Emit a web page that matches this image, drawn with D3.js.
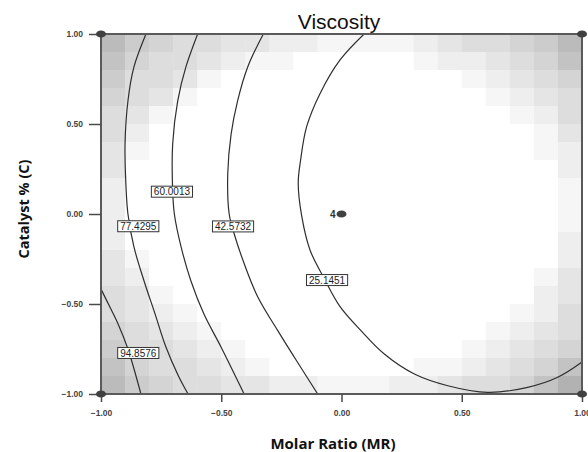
<!DOCTYPE html>
<html>
<head>
<meta charset="utf-8">
<script src="https://cdn.jsdelivr.net/npm/d3@7"></script>
<style>
  body { margin: 0; background: #fff; }
  text { font-family: "Liberation Sans", Arial, sans-serif; }
</style>
</head>
<body>
<div id="chart"></div>
<script>
// axis ticks (coded factors)
const xTicks = [-1, -0.5, 0, 0.5, 1]
const yTicks = [-1, -0.5, 0, 0.5, 1]

// grey shading cells, 20 x 20, top row first, 0 = white .. 9 = darkest
const shadeRows = [
  "86544332211112344568",
  "75443211000001223457",
  "64431000000000012345",
  "54310000000000001234",
  "43100000000000000124",
  "42000000000000000013",
  "31000000000000000012",
  "30000000000000000002",
  "20000000000000000001",
  "20000000000000000001",
  "20000000000000000001",
  "20000000000000000002",
  "31000000000000000002",
  "32000000000000000013",
  "43100000000000000023",
  "43210000000000000124",
  "54321000000000001234",
  "64432100000000012345",
  "75443210000001123457",
  "86544332211122344579"
]

// contour lines, [MR, C] pairs
const contour94 = [[-1.0, -0.417], [-0.962, -0.52], [-0.929, -0.611], [-0.888, -0.75], [-0.834, -1.0]]
const contour77 = [[-0.813, 1.0], [-0.863, 0.817], [-0.888, 0.628], [-0.9, 0.389], [-0.896, 0.15],
  [-0.888, 0.0], [-0.863, -0.183], [-0.821, -0.372], [-0.775, -0.556], [-0.73, -0.739],
  [-0.68, -0.894], [-0.638, -1.0]]
const contour60 = [[-0.598, 1.0], [-0.647, 0.817], [-0.681, 0.629], [-0.702, 0.389], [-0.702, 0.129],
  [-0.695, 0.0], [-0.667, -0.183], [-0.626, -0.372], [-0.572, -0.556], [-0.501, -0.739], [-0.405, -1.0]]
const contour42 = [[-0.325, 1.0], [-0.39, 0.817], [-0.432, 0.629], [-0.459, 0.444], [-0.473, 0.222],
  [-0.467, 0.0], [-0.446, -0.111], [-0.404, -0.278], [-0.348, -0.461], [-0.265, -0.648],
  [-0.196, -0.796], [-0.099, -1.0]]
const contour25 = [[0.094, 1.0], [-0.006, 0.856], [-0.089, 0.67], [-0.145, 0.485], [-0.17, 0.3],
  [-0.18, 0.171], [-0.165, -0.015], [-0.131, -0.2], [-0.076, -0.348], [-0.006, -0.515],
  [0.081, -0.648], [0.178, -0.778], [0.303, -0.889], [0.442, -0.954], [0.608, -0.991],
  [0.774, -0.963], [0.899, -0.907], [1.0, -0.822]]

const contourLines = [contour94, contour77, contour60, contour42, contour25]
const contourLevels = ["94.8576", "77.4295", "60.0013", "42.5732", "25.1451"]
const labelX = [-0.845, -0.845, -0.705, -0.451, -0.06]
const labelY = [-0.772, -0.068, 0.124, -0.069, -0.367]

// design points and replicate counts
const designX = [-1, 1, -1, 1, 0]
const designY = [1, 1, -1, -1, 0]
const designN = [1, 1, 1, 1, 4]

const width = 588, height = 452
const margin = {top: 34, right: 6, bottom: 58, left: 101}

const svg = d3.select("#chart").append("svg")
  .attr("width", width)
  .attr("height", height)

const x = d3.scaleLinear().domain([-1, 1]).range([margin.left, width - margin.right])
const y = d3.scaleLinear().domain([-1, 1]).range([height - margin.bottom, margin.top])

const col = d3.scaleBand().domain(d3.range(20)).range(x.range())
const row = d3.scaleBand().domain(d3.range(20)).range([margin.top, height - margin.bottom])
const grey = d3.scaleLinear().domain([0, 9]).range(["#ffffff", "#b2b2b2"])

const cells = shadeRows.flatMap((r, i) => r.split("").map((v, j) => ({i, j, v: +v})))

svg.append("g").selectAll("rect")
  .data(cells)
  .join("rect")
  .attr("x", d => col(d.j))
  .attr("y", d => row(d.i))
  .attr("width", col.bandwidth() + 0.5)
  .attr("height", row.bandwidth() + 0.5)
  .attr("fill", d => grey(d.v))

svg.append("clipPath").attr("id", "plot-clip")
  .append("rect")
  .attr("x", x(-1)).attr("y", y(1))
  .attr("width", x(1) - x(-1)).attr("height", y(-1) - y(1))

const line = d3.line()
  .x(d => x(d[0]))
  .y(d => y(d[1]))
  .curve(d3.curveCatmullRom)

svg.append("g")
  .attr("clip-path", "url(#plot-clip)")
  .selectAll("path")
  .data(contourLines)
  .join("path")
  .attr("d", line)
  .attr("fill", "none")
  .attr("stroke", "#2e2e2e")
  .attr("stroke-width", 1.2)

// frame
svg.append("rect")
  .attr("x", x(-1)).attr("y", y(1))
  .attr("width", x(1) - x(-1)).attr("height", y(-1) - y(1))
  .attr("fill", "none")
  .attr("stroke", "#5a5a5a")
  .attr("stroke-width", 2)

const fmt = d3.format(".2f")

const xAxis = svg.append("g")
  .attr("transform", `translate(0, ${y(-1)})`)
  .call(d3.axisBottom(x).tickValues(xTicks).tickFormat(fmt).tickSize(8).tickPadding(8))
xAxis.select(".domain").remove()

const yAxis = svg.append("g")
  .attr("transform", `translate(${x(-1)}, 0)`)
  .call(d3.axisLeft(y).tickValues(yTicks).tickFormat(fmt).tickSize(12).tickPadding(6))
yAxis.select(".domain").remove()

svg.selectAll(".tick line").attr("stroke", "#4a4a4a").attr("stroke-width", 1.5)
svg.selectAll(".tick text")
  .attr("font-family", "Liberation Sans, Arial, sans-serif")
  .attr("font-size", 8.5)
  .attr("font-weight", "bold")
  .attr("fill", "#444")

// contour labels
const labels = svg.append("g").selectAll("g")
  .data(contourLevels)
  .join("g")
  .attr("transform", (d, i) => `translate(${x(labelX[i])}, ${y(labelY[i])})`)

labels.append("rect")
labels.append("text")
  .attr("text-anchor", "middle")
  .attr("dy", "0.36em")
  .attr("font-size", 10)
  .attr("fill", "#222")
  .text(d => d)

labels.each(function() {
  const g = d3.select(this)
  const w = g.select("text").node().getComputedTextLength() + 5
  g.select("rect")
    .attr("x", -w / 2).attr("y", -5.5)
    .attr("width", w).attr("height", 11)
    .attr("fill", "#fff")
    .attr("stroke", "#333")
    .attr("stroke-width", 1)
})

// design points
const points = designX.map((d, i) => ({x: d, y: designY[i], n: designN[i]}))

svg.append("g").selectAll("ellipse")
  .data(points)
  .join("ellipse")
  .attr("cx", d => x(d.x))
  .attr("cy", d => y(d.y))
  .attr("rx", 5)
  .attr("ry", 3.6)
  .attr("fill", "#404040")

svg.append("g").selectAll("text")
  .data(points.filter(d => d.n > 1))
  .join("text")
  .attr("x", d => x(d.x) - 6)
  .attr("y", d => y(d.y))
  .attr("dy", "0.36em")
  .attr("text-anchor", "end")
  .attr("font-size", 10)
  .attr("font-weight", "bold")
  .attr("fill", "#333")
  .text(d => d.n)

// titles
svg.append("text")
  .attr("x", 339)
  .attr("y", 29)
  .attr("text-anchor", "middle")
  .attr("font-size", 21)
  .attr("fill", "#111")
  .text("Viscosity")

svg.append("text")
  .attr("x", 333)
  .attr("y", 449)
  .attr("text-anchor", "middle")
  .style("font-family", "'Open Sans', sans-serif")
  .attr("font-size", 15)
  .attr("font-weight", "bold")
  .attr("fill", "#111")
  .text("Molar Ratio (MR)")

svg.append("text")
  .attr("transform", "translate(29, 209) rotate(-90)")
  .attr("text-anchor", "middle")
  .style("font-family", "'Open Sans', sans-serif")
  .attr("font-size", 14.5)
  .attr("font-weight", "bold")
  .attr("fill", "#111")
  .text("Catalyst % (C)")
</script>
</body>
</html>
